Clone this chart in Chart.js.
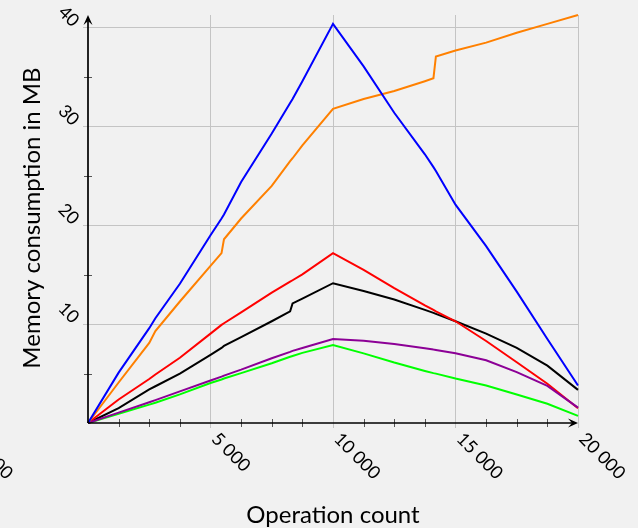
<!DOCTYPE html>
<html>
<head>
<meta charset="utf-8">
<script src="https://cdn.jsdelivr.net/npm/chart.js@4.4.1/dist/chart.umd.min.js"></script>
<style>
  html, body { margin: 0; padding: 0; background: #f1f1f1; }
  #wrap { width: 638px; height: 528px; }
</style>
</head>
<body>
<div id="wrap"><canvas id="memChart" width="638" height="528"></canvas></div>
<script>
// operation count (x) shared by every series
const opCounts = [0, 1250, 2500, 2750, 3750, 5000, 5450, 5550, 6250, 7500, 8250, 8350, 8750,
  10000, 11250, 12500, 13750, 14100, 14200, 15000, 16250, 17500, 18750, 20000];

// memory consumption in MB, one list per series
const blueMem   = [0, 5.1, 9.6, 10.6, 14.1, 19.0, 20.7, 21.1, 24.4, 29.3, 32.4, 32.8, 34.6,
  40.4, 36.1, 31.4, 27.2, 25.9, 25.5, 22.1, 17.9, 13.3, 8.5, 3.8];
const orangeMem = [0, 4.1, 8.1, 9.3, 12.3, 15.9, 17.2, 18.6, 20.7, 24.0, 26.5, 26.8, 28.1,
  31.8, 32.8, 33.6, 34.6, 34.9, 37.1, 37.7, 38.5, 39.5, 40.4, 41.3];
const redMem    = [0, 2.38, 4.45, 4.91, 6.6, 9.05, 9.93, 10.1, 11.2, 13.2, 14.3, 14.45, 15.05,
  17.2, 15.5, 13.65, 11.9, 11.45, 11.3, 10.3, 8.3, 6.15, 3.97, 1.5];
const blackMem  = [0, 1.5, 3.4, 3.72, 5.0, 6.9, 7.6, 7.8, 8.7, 10.3, 11.3, 12.1, 12.6,
  14.15, 13.37, 12.5, 11.45, 11.15, 11.05, 10.3, 9.05, 7.6, 5.8, 3.35];
const purpleMem = [0, 1.05, 2.1, 2.32, 3.2, 4.3, 4.7, 4.8, 5.4, 6.55, 7.2, 7.3, 7.6,
  8.5, 8.33, 8.0, 7.57, 7.43, 7.4, 7.05, 6.35, 5.15, 3.75, 1.55];
const greenMem  = [0, 0.93, 1.86, 2.05, 2.9, 4.05, 4.4, 4.5, 5.05, 6.05, 6.7, 6.78, 7.1,
  7.9, 7.05, 6.12, 5.27, 5.05, 5.0, 4.5, 3.8, 2.88, 1.95, 0.72];

// tick values
const xTicks = [-5000, 5000, 10000, 15000, 20000];
const yTicks = [10, 20, 30, 40];
const xMinor = [1250, 2500, 3750, 6250, 7500, 8750, 11250, 12500, 13750, 16250, 17500, 18750];
const yMinor = [5, 15, 25, 35];

const FONT = 'Lato, "Open Sans", sans-serif';

function fmt(n) {
  const s = String(Math.abs(n)).replace(/\B(?=(\d{3})+(?!\d))/g, ' ');
  return n < 0 ? '\u2212' + s : s;
}

function series(ys) {
  return opCounts.map((x, i) => ({ x, y: ys[i] }));
}

function line(ys, color) {
  return {
    data: series(ys),
    borderColor: color,
    borderWidth: 2,
    pointRadius: 0,
    tension: 0,
    fill: false,
    clip: false
  };
}

/* background, axes with arrows, minor ticks, rotated tick labels, axis titles */
const decor = {
  id: 'decor',
  beforeDraw(chart) {
    const c = chart.ctx;
    c.save();
    c.fillStyle = '#f1f1f1';
    c.fillRect(0, 0, chart.width, chart.height);
    c.restore();
  },
  afterDraw(chart) {
    const c = chart.ctx;
    const xs = chart.scales.x, ys = chart.scales.y;
    const x0 = xs.getPixelForValue(0), y0 = ys.getPixelForValue(0);
    const right = chart.chartArea.right, top = chart.chartArea.top;
    c.save();

    // minor ticks
    c.strokeStyle = '#555';
    c.lineWidth = 1;
    xMinor.forEach(v => {
      const px = Math.round(xs.getPixelForValue(v)) + 0.5;
      c.beginPath(); c.moveTo(px, y0 - 4); c.lineTo(px, y0 + 4); c.stroke();
    });
    yMinor.forEach(v => {
      const py = Math.round(ys.getPixelForValue(v)) + 0.5;
      c.beginPath(); c.moveTo(x0 - 4, py); c.lineTo(x0 + 4, py); c.stroke();
    });

    // axis lines
    c.strokeStyle = '#000';
    c.fillStyle = '#000';
    c.lineWidth = 1.7;
    c.beginPath();
    c.moveTo(x0, y0); c.lineTo(right - 3, y0);
    c.moveTo(x0, y0); c.lineTo(x0, top + 3);
    c.stroke();
    // arrow heads
    c.beginPath();
    c.moveTo(right, y0); c.lineTo(right - 10, y0 - 4.5); c.lineTo(right - 6, y0); c.lineTo(right - 10, y0 + 4.5);
    c.closePath(); c.fill();
    c.beginPath();
    c.moveTo(x0, top); c.lineTo(x0 - 4.5, top + 10); c.lineTo(x0, top + 6); c.lineTo(x0 + 4.5, top + 10);
    c.closePath(); c.fill();

    // tick labels, rotated 45deg clockwise
    c.font = '18px ' + FONT;
    c.fillStyle = '#000';
    c.textBaseline = 'middle';
    xTicks.forEach(v => {
      const px = xs.getPixelForValue(v);
      c.save();
      c.translate(px + 4, y0 + 13);
      c.rotate(Math.PI / 4);
      c.textAlign = 'left';
      c.fillText(fmt(v), 0, 0);
      c.restore();
    });
    yTicks.forEach(v => {
      const py = ys.getPixelForValue(v);
      c.save();
      c.translate(x0 - 12, py - 4);
      c.rotate(Math.PI / 4);
      c.textAlign = 'right';
      c.fillText(fmt(v), 0, 0);
      c.restore();
    });

    // axis titles
    c.font = '24px ' + FONT;
    c.textAlign = 'center';
    c.textBaseline = 'alphabetic';
    c.fillText('Operation count', (x0 + right) / 2, 523);
    c.save();
    c.translate(40, 218);
    c.rotate(-Math.PI / 2);
    c.fillText('Memory consumption in MB', 0, 0);
    c.restore();

    c.restore();
  }
};

const gridColor = ctx => (ctx.tick && ctx.tick.value === 0) ? 'rgba(0,0,0,0)' : '#c4c4c4';

new Chart(document.getElementById('memChart'), {
  type: 'line',
  data: {
    datasets: [
      line(blueMem, '#0000ff'),
      line(orangeMem, '#ff8000'),
      line(purpleMem, '#8c0096'),
      line(redMem, '#ff0000'),
      line(blackMem, '#000000'),
      line(greenMem, '#00ff00')
    ]
  },
  options: {
    responsive: false,
    animation: false,
    layout: { padding: { left: 83, right: 60, top: 15, bottom: 100 } },
    plugins: { legend: { display: false }, tooltip: { enabled: false } },
    scales: {
      x: {
        type: 'linear',
        min: 0,
        max: 20000,
        border: { display: false },
        grid: { color: gridColor, drawTicks: true, tickLength: 5, lineWidth: 1 },
        ticks: { stepSize: 5000, display: false, includeBounds: false }
      },
      y: {
        type: 'linear',
        min: 0,
        max: 41.3,
        border: { display: false },
        grid: { color: gridColor, drawTicks: true, tickLength: 5, lineWidth: 1 },
        ticks: { stepSize: 10, display: false, includeBounds: false }
      }
    }
  },
  plugins: [decor]
});
</script>
</body>
</html>
